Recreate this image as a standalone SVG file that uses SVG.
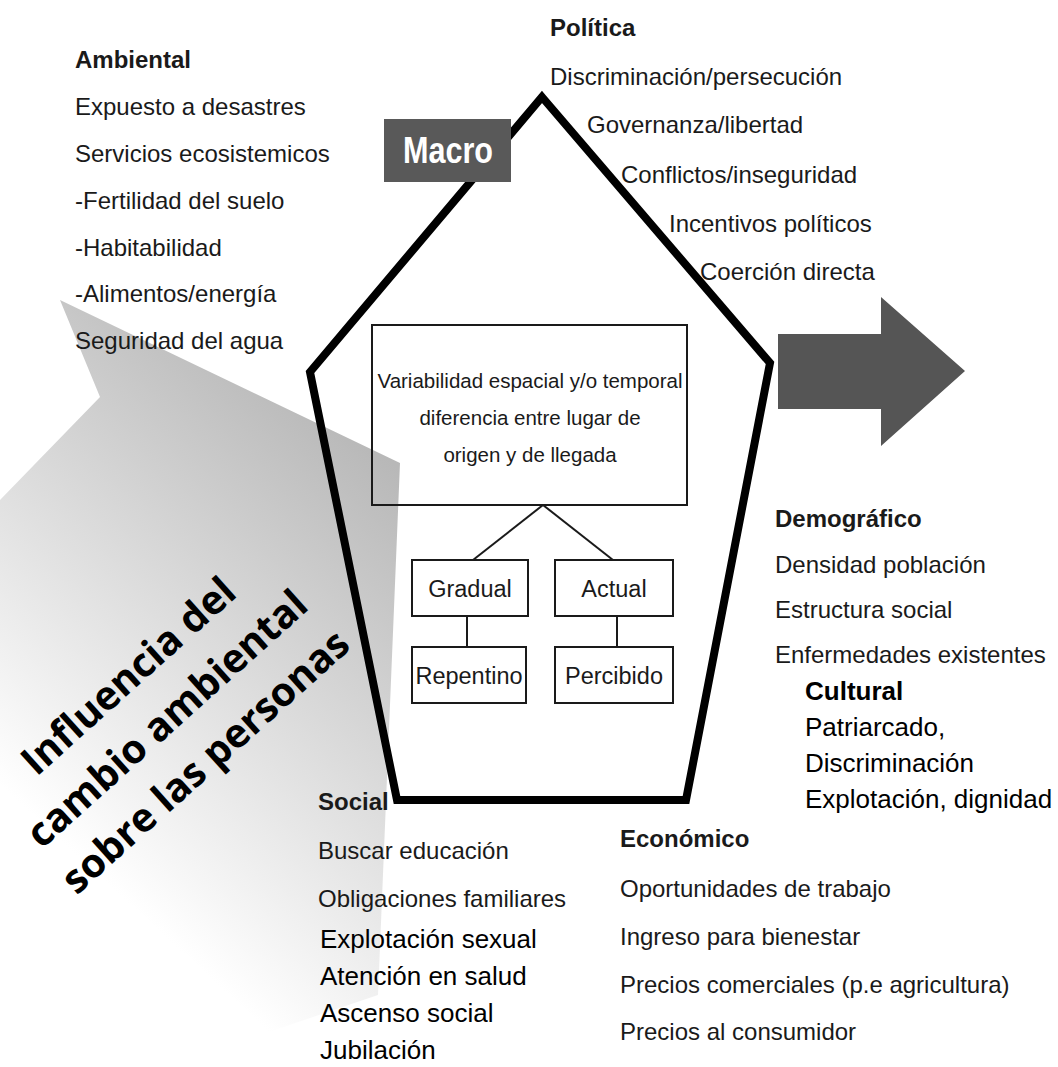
<svg xmlns="http://www.w3.org/2000/svg" width="1058" height="1067" viewBox="0 0 1058 1067">
<style>
.t{font-family:"Liberation Sans",Arial,sans-serif;font-size:24px;fill:#1a1a1a}
.b{font-weight:bold}
.a{font-family:"Liberation Sans",Arial,sans-serif;font-size:26px;fill:#000}
.bx{fill:none;stroke:#1a1a1a;stroke-width:2}
.bt{font-family:"Liberation Sans",Arial,sans-serif;font-size:23.5px;fill:#1a1a1a;text-anchor:middle}
.vt{font-family:"Liberation Sans",Arial,sans-serif;font-size:20.5px;fill:#1a1a1a;text-anchor:middle}
.ln{stroke:#1a1a1a;stroke-width:2;fill:none}
.big{font-family:"Open Sans","Liberation Sans",sans-serif;font-size:40px;font-weight:bold;fill:#000;text-anchor:middle}
</style>
<defs>
<linearGradient id="gr" gradientUnits="userSpaceOnUse" x1="60" y1="840" x2="400" y2="470">
<stop offset="0" stop-color="#ffffff"/>
<stop offset="0.15" stop-color="#f4f4f4"/>
<stop offset="1" stop-color="#b8b8b8"/>
</linearGradient>
</defs>
<rect width="1058" height="1067" fill="#fff"/>

<g id="influence-arrow">
<polygon points="60,300 400,463 378,995 165,1067 0,1067 0,500 100,397" fill="url(#gr)"/>
<g transform="translate(176,729) rotate(-42)">
<text class="big" x="0" y="-57.5">Influencia del</text>
<text class="big" x="0" y="0">cambio ambiental</text>
<text class="big" x="0" y="57.5">sobre las personas</text>
</g>
</g>

<g id="pentagon">
<polygon points="542,97 770,363 686,800 397,800 310,372" fill="none" stroke="#000" stroke-width="8" stroke-linejoin="miter"/>
</g>

<g id="macro">
<rect x="384" y="119" width="127" height="63" fill="#595959"/>
<text x="403" y="163" font-family="Liberation Sans,Arial,sans-serif" font-size="37" font-weight="bold" fill="#fff" textLength="90" lengthAdjust="spacingAndGlyphs">Macro</text>
</g>

<g id="output-arrow">
<polygon points="778,334 881,334 881,297 965,371 881,446 881,409 778,409" fill="#555"/>
</g>

<g id="ambiental">
<text class="t b" x="75" y="68">Ambiental</text>
<text class="t" x="75" y="115">Expuesto a desastres</text>
<text class="t" x="75" y="162">Servicios ecosistemicos</text>
<text class="t" x="75" y="209">-Fertilidad del suelo</text>
<text class="t" x="75" y="256">-Habitabilidad</text>
<text class="t" x="75" y="302">-Alimentos/energía</text>
<text class="t" x="75" y="349">Seguridad del agua</text>
</g>

<g id="politica">
<text class="t b" x="550" y="36">Política</text>
<text class="t" x="550" y="85">Discriminación/persecución</text>
<text class="t" x="587" y="133">Governanza/libertad</text>
<text class="t" x="621" y="183">Conflictos/inseguridad</text>
<text class="t" x="669" y="232">Incentivos políticos</text>
<text class="t" x="700" y="280">Coerción directa</text>
</g>

<g id="variabilidad">
<rect class="bx" x="372" y="325" width="315" height="180"/>
<text class="vt" x="530" y="388">Variabilidad espacial y/o temporal</text>
<text class="vt" x="530" y="425">diferencia entre lugar de</text>
<text class="vt" x="530" y="462">origen y de llegada</text>
</g>

<g id="gradual">
<rect class="bx" x="412" y="560" width="116" height="56"/>
<text class="bt" x="470" y="597">Gradual</text>
</g>
<g id="actual">
<rect class="bx" x="555" y="560" width="118" height="56"/>
<text class="bt" x="614" y="597">Actual</text>
</g>
<g id="repentino">
<rect class="bx" x="412" y="647" width="114" height="56"/>
<text class="bt" x="469" y="684">Repentino</text>
</g>
<g id="percibido">
<rect class="bx" x="555" y="647" width="118" height="56"/>
<text class="bt" x="614" y="684">Percibido</text>
</g>

<g id="connectors">
<line class="ln" x1="543" y1="505" x2="473" y2="560"/>
<line class="ln" x1="543" y1="505" x2="613" y2="560"/>
<line class="ln" x1="467" y1="616" x2="467" y2="647"/>
<line class="ln" x1="617" y1="616" x2="617" y2="647"/>
</g>

<g id="demografico">
<text class="t b" x="775" y="527">Demográfico</text>
<text class="t" x="775" y="573">Densidad población</text>
<text class="t" x="775" y="618">Estructura social</text>
<text class="t" x="775" y="663">Enfermedades existentes</text>
</g>

<g id="cultural">
<text class="a b" x="805" y="700">Cultural</text>
<text class="a" x="805" y="736">Patriarcado,</text>
<text class="a" x="805" y="772">Discriminación</text>
<text class="a" x="805" y="808">Explotación, dignidad</text>
</g>

<g id="social">
<text class="t b" x="318" y="810">Social</text>
<text class="t" x="318" y="859">Buscar educación</text>
<text class="t" x="318" y="907">Obligaciones familiares</text>
<text class="a" x="320" y="948">Explotación sexual</text>
<text class="a" x="320" y="985">Atención en salud</text>
<text class="a" x="320" y="1022">Ascenso social</text>
<text class="a" x="320" y="1059">Jubilación</text>
</g>

<g id="economico">
<text class="t b" x="620" y="847">Económico</text>
<text class="t" x="620" y="897">Oportunidades de trabajo</text>
<text class="t" x="620" y="945">Ingreso para bienestar</text>
<text class="t" x="620" y="993">Precios comerciales (p.e agricultura)</text>
<text class="t" x="620" y="1040">Precios al consumidor</text>
</g>
</svg>
